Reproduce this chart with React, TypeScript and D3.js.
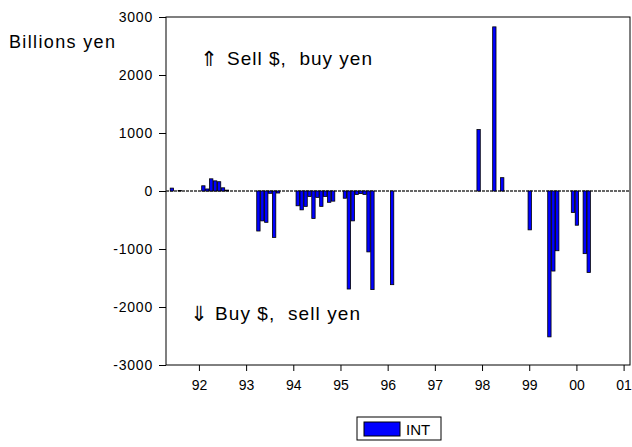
import * as d3 from "d3";
import { useEffect, useRef } from "react";

// monthly intervention, 1991:05 .. 2001:02 (billions of yen, + = sell $ / buy yen)
const years = [1991, 1992, 1993, 1994, 1995, 1996, 1997, 1998, 1999, 2000, 2001];
const int1991 = [0, 50, 0, 10, 0, 0, 0, 0]; // May..Dec
const int1992 = [0, 90, 35, 210, 175, 160, 55, 15, 0, 0, 0, 0];
const int1993 = [0, 0, 0, -690, -515, -540, -40, -800, -35, 0, 0, 0];
const int1994 = [0, -255, -325, -265, -95, -475, -110, -265, -95, -195, -175, 0];
const int1995 = [0, -125, -1690, -515, -60, -45, -60, -1050, -1700, 0, 0, 0];
const int1996 = [0, -1615, 0, 0, 0, 0, 0, 0, 0, 0, 0, 0];
const int1997 = [0, 0, 0, 0, 0, 0, 0, 0, 0, 0, 0, 1060];
const int1998 = [0, 0, 0, 2830, 0, 230, 0, 0, 0, 0, 0, 0];
const int1999 = [-670, 0, 0, 0, 0, -2515, -1380, -1030, 0, 0, 0, -370];
const int2000 = [-590, 0, -1080, -1405, 0, 0, 0, 0, 0, 0, 0, 0];
const int2001 = [0, 0]; // Jan..Feb
const seriesByYear = [int1991, int1992, int1993, int1994, int1995, int1996, int1997, int1998, int1999, int2000, int2001];

const yTicks = [-3000, -2000, -1000, 0, 1000, 2000, 3000];
const xTickLabels = ["92", "93", "94", "95", "96", "97", "98", "99", "00", "01"];

const BAR_COLOR = "#0000ff";
const FONT = "'Liberation Sans', Arial, sans-serif";

const App = () => {
  const svgRef = useRef(null);

  useEffect(() => {
    const width = 632;
    const height = 447;
    const left = 166,
      right = 630,
      top = 17,
      bottom = 365;

    // build month table from the yearly arrays
    const data: { key: string; value: number }[] = [];
    seriesByYear.forEach((arr, yi) => {
      const startMonth = yi === 0 ? 5 : 1;
      arr.forEach((v, m) => {
        data.push({ key: `${years[yi]}:${startMonth + m}`, value: v });
      });
    });

    const svg = d3.select(svgRef.current).attr("width", width).attr("height", height);
    svg.selectAll("*").remove();

    const x = d3
      .scaleBand()
      .domain(data.map((d) => d.key))
      .range([left, right])
      .paddingInner(0.15)
      .paddingOuter(0.075);
    const y = d3.scaleLinear().domain([-3000, 3000]).range([bottom, top]);

    // frame
    svg
      .append("rect")
      .attr("x", left)
      .attr("y", top)
      .attr("width", right - left)
      .attr("height", bottom - top)
      .attr("fill", "white")
      .attr("stroke", "black")
      .attr("stroke-width", 1);

    // zero line
    svg
      .append("line")
      .attr("x1", left)
      .attr("x2", right)
      .attr("y1", y(0))
      .attr("y2", y(0))
      .attr("stroke", "#333")
      .attr("stroke-width", 1.5)
      .attr("stroke-dasharray", "3,1");

    // bars
    svg
      .append("g")
      .selectAll("rect")
      .data(data.filter((d) => d.value !== 0))
      .enter()
      .append("rect")
      .attr("x", (d) => x(d.key)!)
      .attr("y", (d) => y(Math.max(0, d.value)))
      .attr("width", x.bandwidth())
      .attr("height", (d) => Math.abs(y(d.value) - y(0)))
      .attr("fill", BAR_COLOR)
      .attr("stroke", "black")
      .attr("stroke-width", 0.8);

    // y axis
    const yAxis = svg
      .append("g")
      .attr("transform", `translate(${left},0)`)
      .call(
        d3
          .axisLeft(y)
          .tickValues(yTicks)
          .tickSize(7)
          .tickPadding(6)
          .tickFormat((d) => String(d))
      );
    yAxis.select(".domain").remove();
    yAxis
      .selectAll("text")
      .attr("font-family", FONT)
      .attr("font-size", 14)
      .attr("letter-spacing", 0.8)
      .attr("fill", "black");

    // x axis, ticks on January of each year
    const janKeys = years.slice(1).map((yr) => `${yr}:1`);
    const xAxis = svg
      .append("g")
      .attr("transform", `translate(0,${bottom})`)
      .call(
        d3
          .axisBottom(x)
          .tickValues(janKeys)
          .tickSize(6)
          .tickPadding(9)
          .tickFormat((d, i) => xTickLabels[i])
      );
    xAxis.select(".domain").remove();
    xAxis
      .selectAll("text")
      .attr("font-family", FONT)
      .attr("font-size", 14)
      .attr("fill", "black");

    // labels
    svg
      .append("text")
      .attr("x", 9)
      .attr("y", 48)
      .attr("font-family", FONT)
      .attr("font-size", 18)
      .attr("textLength", 106)
      .attr("lengthAdjust", "spacing")
      .text("Billions yen");

    svg
      .append("text")
      .attr("x", 200)
      .attr("y", 66)
      .attr("font-family", "'DejaVu Sans', sans-serif")
      .attr("font-size", 21)
      .text("\u21D1");
    svg
      .append("text")
      .attr("x", 227)
      .attr("y", 65)
      .attr("font-family", FONT)
      .attr("font-size", 19)
      .attr("textLength", 145)
      .attr("lengthAdjust", "spacing")
      .attr("xml:space", "preserve")
      .text("Sell $,  buy yen");

    svg
      .append("text")
      .attr("x", 190)
      .attr("y", 321)
      .attr("font-family", "'DejaVu Sans', sans-serif")
      .attr("font-size", 21)
      .text("\u21D3");
    svg
      .append("text")
      .attr("x", 215)
      .attr("y", 320)
      .attr("font-family", FONT)
      .attr("font-size", 19)
      .attr("textLength", 145)
      .attr("lengthAdjust", "spacing")
      .attr("xml:space", "preserve")
      .text("Buy $,  sell yen");

    // legend
    svg
      .append("rect")
      .attr("x", 357)
      .attr("y", 417)
      .attr("width", 84)
      .attr("height", 23)
      .attr("fill", "white")
      .attr("stroke", "black")
      .attr("stroke-width", 1);
    svg
      .append("rect")
      .attr("x", 364)
      .attr("y", 422)
      .attr("width", 36)
      .attr("height", 14)
      .attr("fill", BAR_COLOR)
      .attr("stroke", "black")
      .attr("stroke-width", 1);
    svg
      .append("text")
      .attr("x", 406)
      .attr("y", 435)
      .attr("font-family", FONT)
      .attr("font-size", 15)
      .text("INT");
  }, []);

  return (
    <div style={{ position: "absolute", left: 0, top: 0 }}>
      <svg ref={svgRef} style={{ display: "block", background: "white" }}></svg>
    </div>
  );
};

export default App;
